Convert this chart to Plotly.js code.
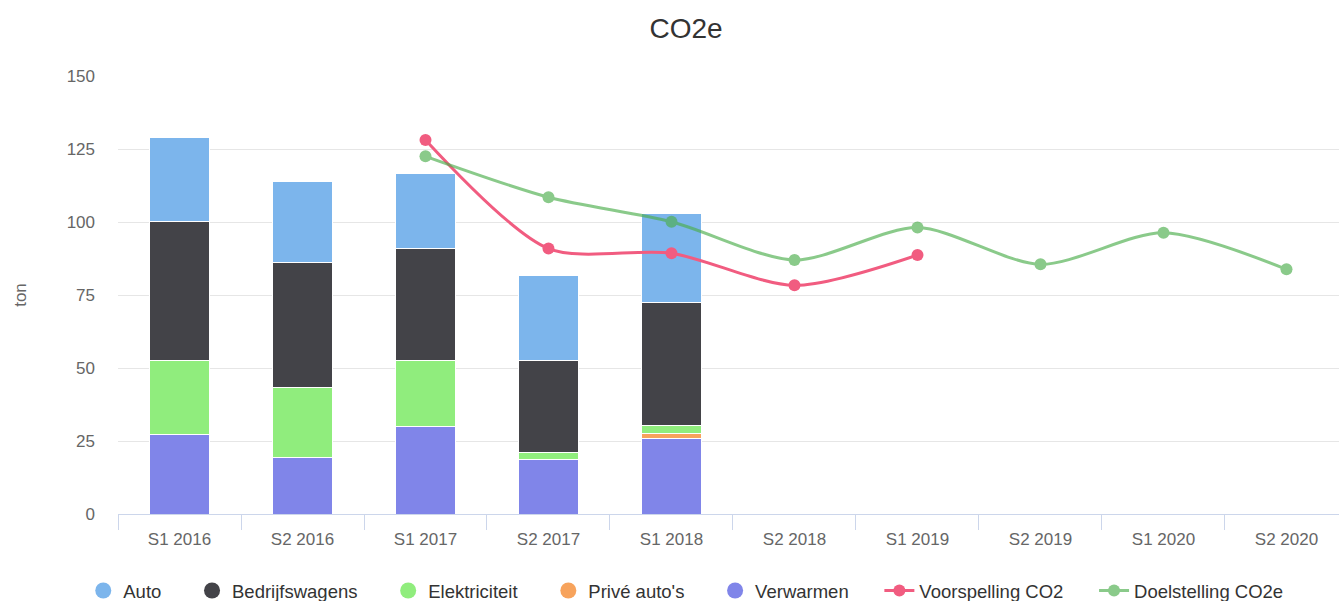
<!DOCTYPE html>
<html>
<head>
<meta charset="utf-8">
<script src="https://cdn.plot.ly/plotly-3.0.1.min.js"></script>
<style>html,body{margin:0;padding:0;background:#fff;}#chart{width:1339px;height:601px;}</style>
</head>
<body>
<div id="chart"></div>
<script>
const categories = ["S1 2016","S2 2016","S1 2017","S2 2017","S1 2018","S2 2018","S1 2019","S2 2019","S1 2020","S2 2020"];
const verwarmen      = [27.1, 19.5, 29.8, 18.8, 25.9, null, null, null, null, null];
const priveAutos     = [0,    0,    0,    0,    1.6,  null, null, null, null, null];
const elektriciteit  = [25.6, 23.9, 22.9, 2.2,  2.7,  null, null, null, null, null];
const bedrijfswagens = [47.6, 42.8, 38.3, 31.7, 42.2, null, null, null, null, null];
const auto           = [28.8, 27.6, 25.5, 28.9, 30.6, null, null, null, null, null];
const voorspellingCO2 = [null, null, 128.1, 90.9, 89.3, 78.3, 88.7, null, null, null];
const doelstellingCO2e = [null, null, 122.5, 108.5, 100.1, 87.0, 98.1, 85.5, 96.3, 83.8];

const font = "'Liberation Sans', Arial, Helvetica, sans-serif";
const pad = "\u00a0\u00a0\u00a0\u00a0\u00a0";
const barSeries = [
  {name: "Verwarmen", y: verwarmen, color: "#8085e9", rank: 5},
  {name: "Privé auto's", y: priveAutos, color: "#f7a35c", rank: 4},
  {name: "Elektriciteit", y: elektriciteit, color: "#90ed7d", rank: 3},
  {name: "Bedrijfswagens", y: bedrijfswagens, color: "#434348", rank: 2},
  {name: "Auto", y: auto, color: "#7cb5ec", rank: 1}
];
const traces = [];
barSeries.forEach(s => {
  traces.push({
    type: "bar", x: categories, y: s.y, name: s.name, legendgroup: s.name,
    showlegend: false, marker: {color: s.color, line: {color: "#ffffff", width: 1}}
  });
  traces.push({
    type: "scatter", mode: "markers", x: [null], y: [null], name: s.name + pad, legendgroup: s.name,
    legendrank: s.rank, marker: {color: s.color, size: 16, symbol: "circle"}, hoverinfo: "skip"
  });
});
traces.push({
  type: "scatter", mode: "lines+markers", x: categories, y: voorspellingCO2, name: "Voorspelling CO2" + pad,
  legendrank: 6, line: {color: "#f15c80", width: 3, shape: "spline", smoothing: 0.8},
  marker: {color: "#f15c80", size: 12}, connectgaps: false
});
traces.push({
  type: "scatter", mode: "lines+markers", x: categories, y: doelstellingCO2e, name: "Doelstelling CO2e",
  legendrank: 7, opacity: 0.65, line: {color: "#4cae4c", width: 3, shape: "spline", smoothing: 0.8},
  marker: {color: "#4cae4c", size: 12}
});

const layout = {
  width: 1339, height: 601,
  margin: {l: 118, r: 0, t: 76, b: 87},
  paper_bgcolor: "#ffffff", plot_bgcolor: "#ffffff",
  font: {family: font, color: "#666666", size: 17},
  title: {text: "CO2e", font: {family: font, size: 28, color: "#333333"}, x: 686/1339, xanchor: "center", y: 1 - 28/601, yanchor: "middle", yref: "container"},
  barmode: "stack", bargap: 0.52,
  xaxis: {
    type: "category", range: [-0.5, 9.427], showgrid: false, showline: true, linecolor: "#ccd6eb", linewidth: 1,
    ticks: "outside", tickson: "boundaries", ticklen: 15, tickcolor: "#ccd6eb", tickwidth: 1,
    ticklabelstandoff: 10,
    tickfont: {family: font, size: 17, color: "#666666"}, fixedrange: true
  },
  yaxis: {
    range: [0, 150], tickvals: [0, 25, 50, 75, 100, 125, 150], showgrid: true, gridcolor: "#e6e6e6", gridwidth: 1,
    zeroline: false, showline: false, ticklabelstandoff: 22,
    tickfont: {family: font, size: 17, color: "#666666"},
    title: {text: "ton", font: {family: font, size: 17, color: "#666666"}, standoff: 35}
  },
  showlegend: true,
  legend: {
    orientation: "h", x: 0.465, xanchor: "center", y: 1 - 591/601, yref: "container", yanchor: "middle",
    font: {family: font, size: 18.5, color: "#333333"}, itemwidth: 30, traceorder: "normal"
  }
};
Plotly.newPlot("chart", traces, layout, {displayModeBar: false});
</script>
</body>
</html>
